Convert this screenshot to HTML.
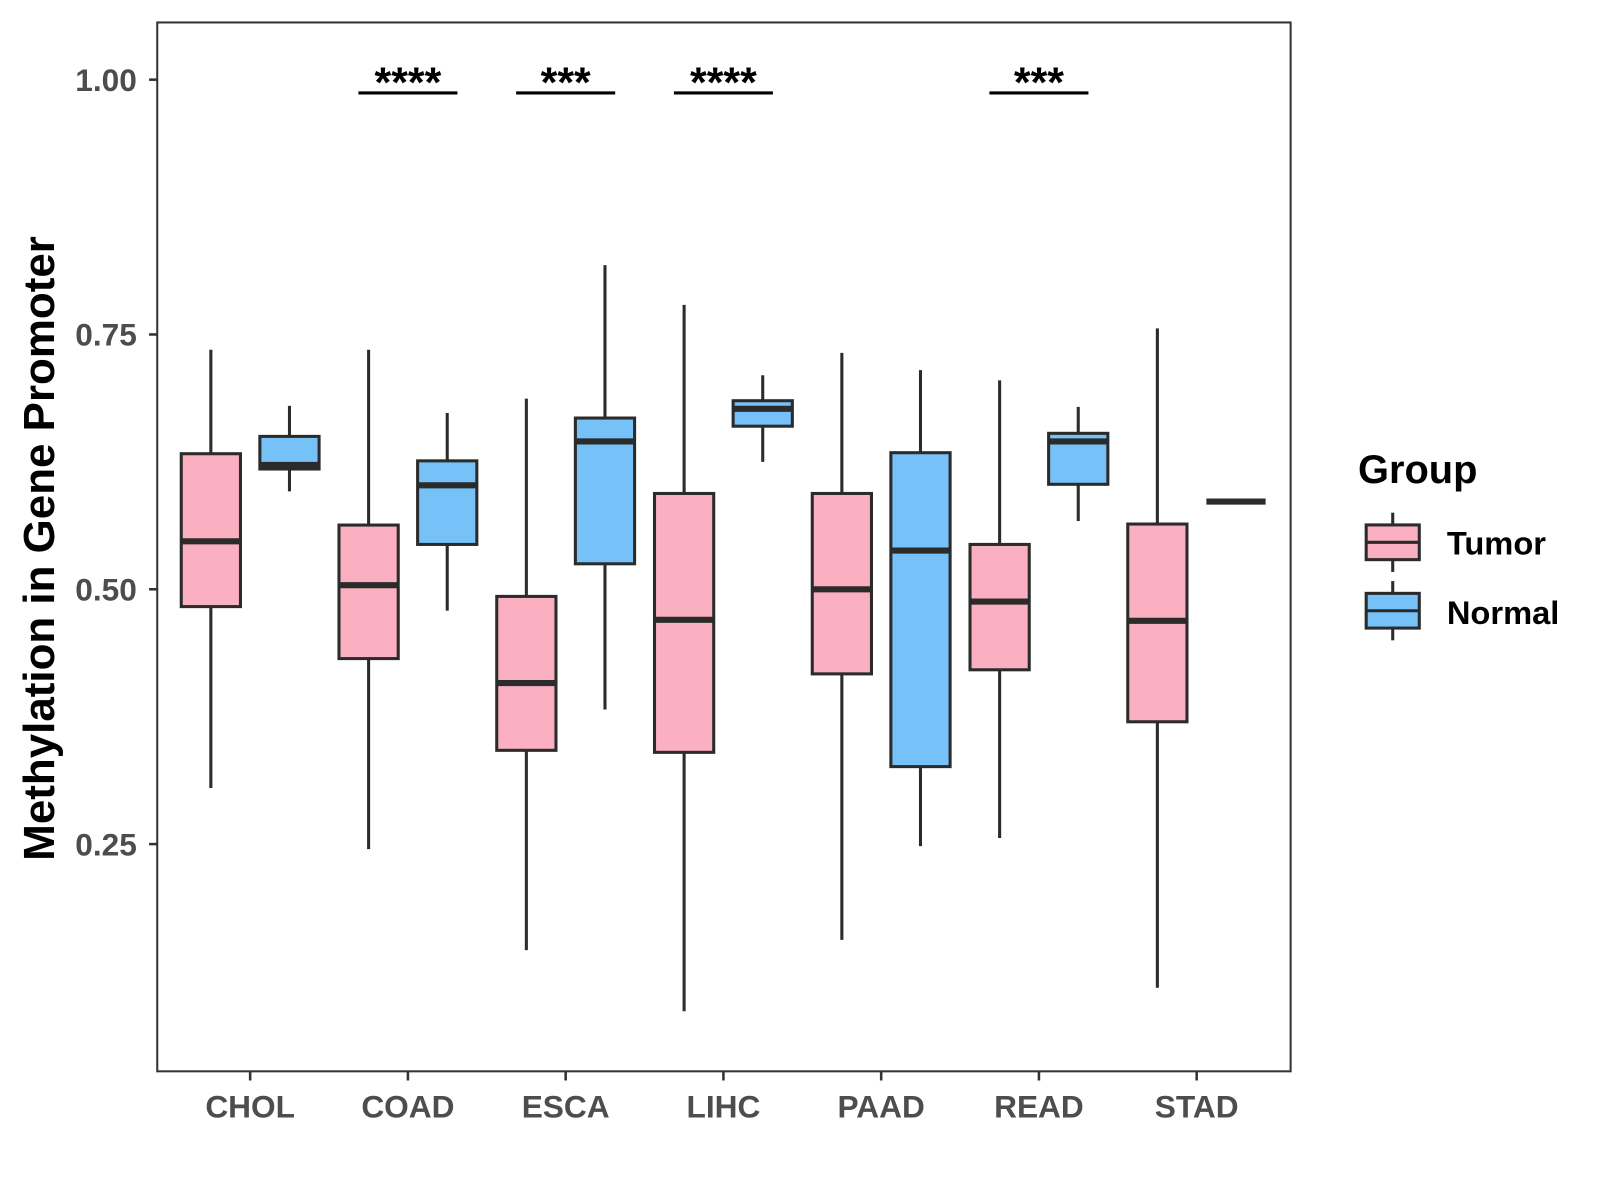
<!DOCTYPE html>
<html><head><meta charset="utf-8"><style>
html,body{margin:0;padding:0;background:#fff}
svg{display:block}
text{font-family:"Liberation Sans",Arial,sans-serif;font-weight:bold}
</style></head><body>
<svg id="chart" width="1600" height="1200" viewBox="0 0 1567 1175" preserveAspectRatio="none" xmlns="http://www.w3.org/2000/svg">
<rect x="0" y="0" width="1567" height="1175" fill="#fff"/>
<rect x="154" y="22" width="1110" height="1027" fill="none" stroke="#333" stroke-width="2"/>
<g id="marks"></g>
<text transform="translate(53,537) rotate(-90)" text-anchor="middle" font-size="43" fill="#000">Methylation in Gene Promoter</text>
<g>
<text x="1330" y="473" font-size="39" fill="#000">Group</text>
<g>
<line x1="1364" y1="502" x2="1364" y2="560" stroke="#2b2b2b" stroke-width="3"/>
<rect x="1338" y="514" width="52" height="34" fill="#FBB0C1" stroke="#2b2b2b" stroke-width="3"/>
<line x1="1338" y1="531" x2="1390" y2="531" stroke="#2b2b2b" stroke-width="3"/>
<text x="1417" y="543" font-size="32" fill="#000">Tumor</text></g>
<g>
<line x1="1364" y1="569" x2="1364" y2="627" stroke="#2b2b2b" stroke-width="3"/>
<rect x="1338" y="581" width="52" height="34" fill="#76C1F8" stroke="#2b2b2b" stroke-width="3"/>
<line x1="1338" y1="598" x2="1390" y2="598" stroke="#2b2b2b" stroke-width="3"/>
<text x="1417" y="611" font-size="32" fill="#000">Normal</text></g>
</g>
</svg>
<script>
const categories = ["CHOL","COAD","ESCA","LIHC","PAAD","READ","STAD"];
// [lowerWhisker, Q1, median, Q3, upperWhisker]
const tumorStats = [
 [0.305,0.483,0.547,0.633,0.735],
 [0.245,0.432,0.504,0.563,0.735],
 [0.146,0.342,0.408,0.493,0.687],
 [0.086,0.340,0.470,0.594,0.779],
 [0.156,0.417,0.500,0.594,0.732],
 [0.256,0.421,0.488,0.544,0.705],
 [0.109,0.370,0.469,0.564,0.756]
];
const normalStats = [
 [0.596,0.618,0.622,0.650,0.680],
 [0.479,0.544,0.602,0.626,0.673],
 [0.382,0.525,0.645,0.668,0.818],
 [0.625,0.660,0.677,0.685,0.710],
 [0.248,0.326,0.538,0.634,0.715],
 [0.567,0.603,0.645,0.653,0.679],
 [0.586,0.586,0.586,0.586,0.586]
];
const yTicks = [0.25,0.50,0.75,1.00];
const yTickLabels = ["0.25","0.50","0.75","1.00"];
const sigCategories = ["COAD","ESCA","LIHC","READ"];
const sigLabels = ["****","***","****","***"];
const sigLevel = 0.987;

const NS="http://www.w3.org/2000/svg";
const g=document.getElementById('marks');
const y=v=>78+(1-v)*998;
const x=i=>245+i*154.5;
const dodge=38.5, bw=58;
function el(tag,attrs,parent){const e=document.createElementNS(NS,tag);for(const k in attrs)e.setAttribute(k,attrs[k]);(parent||g).appendChild(e);return e;}

yTicks.forEach((t,i)=>{
 const tk=el('line',{x1:146,x2:154,y1:y(t),y2:y(t),stroke:'#333','stroke-width':2.5});
 
 
 const tx=el('text',{x:134,y:y(t)+11,'text-anchor':'end','font-size':31,fill:'#4d4d4d'});
 tx.textContent=yTickLabels[i];
 
 
});
categories.forEach((c,i)=>{
 const tk=el('line',{x1:x(i),x2:x(i),y1:1049,y2:1058,stroke:'#333','stroke-width':2.5});
 
 
 const tx=el('text',{x:x(i),y:1094,'text-anchor':'middle','font-size':31,fill:'#4d4d4d'});
 tx.textContent=c;
 
 
});
function box(s,cx,fill,name){
 const grp=el('g',{});
 
 
 el('line',{x1:cx,x2:cx,y1:y(s[4]),y2:y(s[0]),stroke:'#2b2b2b','stroke-width':3},grp);
 el('rect',{x:cx-bw/2,y:y(s[3]),width:bw,height:Math.max(0,y(s[1])-y(s[3])),fill:fill,stroke:'#2b2b2b','stroke-width':3},grp);
 el('line',{x1:cx-bw/2,x2:cx+bw/2,y1:y(s[2]),y2:y(s[2]),stroke:'#2b2b2b','stroke-width':6},grp);
}
categories.forEach((c,i)=>{
 box(tumorStats[i],x(i)-dodge,'#FBB0C1','box-tumor-'+c.toLowerCase());
 box(normalStats[i],x(i)+dodge,'#76C1F8','box-normal-'+c.toLowerCase());
});
sigCategories.forEach((c,k)=>{
 const i=categories.indexOf(c);
 const ln=el('line',{x1:x(i)-dodge-10,x2:x(i)+dodge+10,y1:y(sigLevel),y2:y(sigLevel),stroke:'#000','stroke-width':3});
 
 
 const tx=el('text',{x:x(i),y:y(sigLevel)+4,'text-anchor':'middle','font-size':42,fill:'#000'});
 tx.textContent=sigLabels[k];
 
 
});
</script>
</body></html>
